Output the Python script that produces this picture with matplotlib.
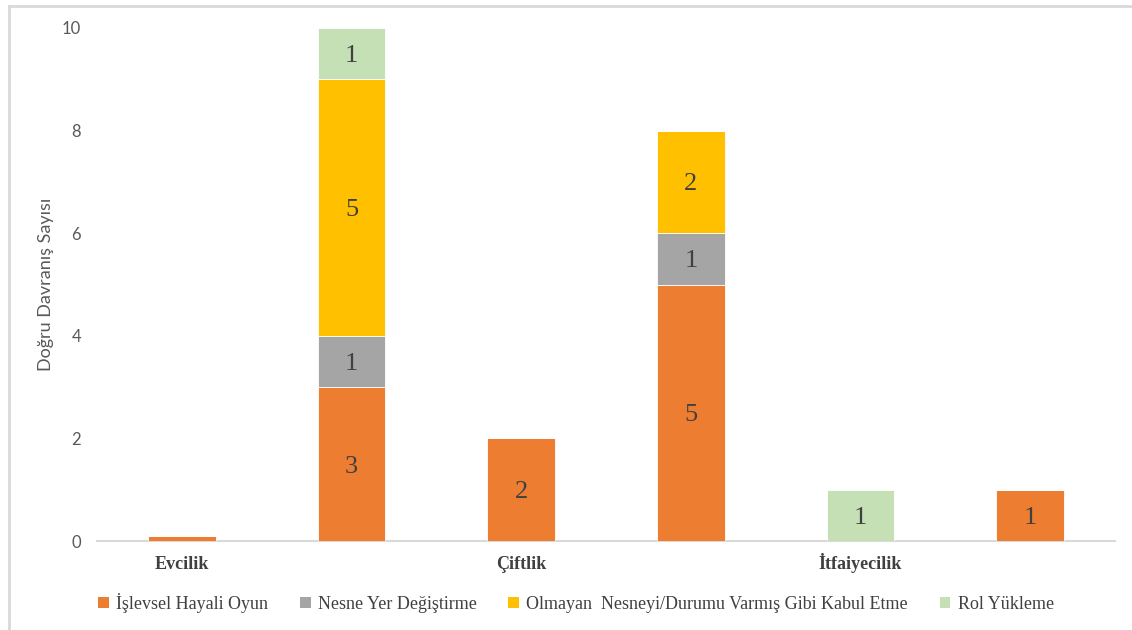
import numpy as np
import matplotlib
matplotlib.use('Agg')
import matplotlib.pyplot as plt
from matplotlib.lines import Line2D
from matplotlib.patches import Patch

# six bars, category name shown under every other one
tick_labels = ['Evcilik', '', 'Çiftlik', '', 'İtfaiyecilik', '']
series = ['İşlevsel Hayali Oyun', 'Nesne Yer Değiştirme',
          'Olmayan  Nesneyi/Durumu Varmış Gibi Kabul Etme', 'Rol Yükleme']
islevsel = [0.1, 3, 2, 5, 0, 1]
nesne = [0, 1, 0, 1, 0, 0]
olmayan = [0, 5, 0, 2, 0, 0]
rol = [0, 1, 0, 0, 1, 0]
colors = ['#ED7D31', '#A5A5A5', '#FFC000', '#C5E0B4']

SERIF = 'Liberation Serif'
SANS = 'Lato'

fig = plt.figure(figsize=(11.32, 6.30), dpi=100)
ax = fig.add_axes([97 / 1132, 1 - 541 / 630, 1018 / 1132, 513 / 630])

x = np.arange(len(tick_labels))
bottom = np.zeros(len(x))
for vals, col in zip([islevsel, nesne, olmayan, rol], colors):
    vals = np.array(vals, dtype=float)
    bars = ax.bar(x, vals, width=0.4, bottom=bottom, color=col,
                  edgecolor='white', linewidth=0.6, zorder=3)
    for b, v, b0 in zip(bars, vals, bottom):
        if v >= 1:
            ax.text(b.get_x() + b.get_width() / 2, b0 + v / 2, f'{v:g}',
                    ha='center', va='center_baseline', fontsize=19,
                    color='#404040', family=SERIF)
    bottom += vals

ax.set_xlim(-0.5, 5.5)
ax.set_ylim(0, 10)
ax.set_yticks([0, 2, 4, 6, 8, 10])
ax.tick_params(axis='y', length=0, labelsize=12, labelcolor='#595959', pad=11.5)
for t in ax.get_yticklabels():
    t.set_family(SANS)
ax.set_xticks(x)
ax.set_xticklabels(tick_labels, family=SERIF, fontsize=13, fontweight='bold',
                   color='#404040', va='baseline')
ax.tick_params(axis='x', length=0, pad=20)
for s in ['top', 'right', 'left']:
    ax.spines[s].set_visible(False)
ax.spines['bottom'].set_color('#D9D9D9')
ax.spines['bottom'].set_linewidth(1.5)

fig.text(46 / 1132, 1 - 284 / 630, 'Doğru Davranış Sayısı', rotation=90,
         ha='center', va='center', fontsize=13, color='#595959', family=SANS)

handles = [Patch(facecolor=c, edgecolor='none') for c in colors]
fig.legend(handles, series, loc='center', bbox_to_anchor=(576 / 1132, 1 - 603 / 630),
           ncol=4, frameon=False, handlelength=0.6, handleheight=0.6,
           handletextpad=0.4, columnspacing=1.75,
           prop={'family': SERIF, 'size': 13}, labelcolor='#404040')

# light frame lines (top and left edges visible in the original)
fig.add_artist(Line2D([8.5 / 1132, 1], [1 - 5.5 / 630] * 2, color='#D9D9D9', lw=2))
fig.add_artist(Line2D([8.5 / 1132] * 2, [0, 1 - 5.5 / 630], color='#D9D9D9', lw=2))

fig.savefig('out.png', dpi=100)
